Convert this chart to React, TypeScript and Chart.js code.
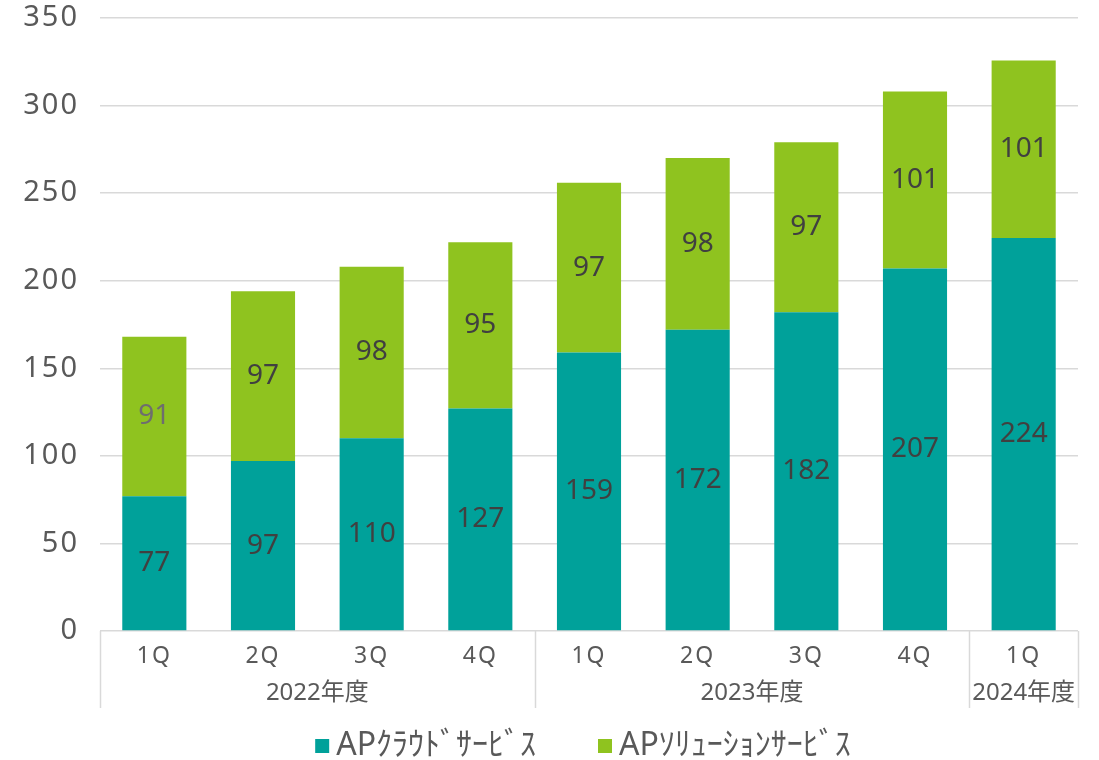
import React, { useEffect, useRef } from "react";
import { Chart, registerables } from "chart.js";

Chart.register(...registerables);

const quarters = ["1Q", "2Q", "3Q", "4Q", "1Q", "2Q", "3Q", "4Q", "1Q"];
const fiscalYears = ["2022年度", "2023年度", "2024年度"];
const fiscalYearSpans = [4, 4, 1];
const cloudLabel = "APｸﾗｳﾄﾞｻｰﾋﾞｽ";
const solutionLabel = "APｿﾘｭｰｼｮﾝｻｰﾋﾞｽ";
const cloudValues = [77, 97, 110, 127, 159, 172, 182, 207, 224.4];
const solutionValues = [91, 97, 98, 95, 97, 98, 97, 101, 101.4];
const yMin = 0;
const yMax = 350;
const yStep = 50;

const TEAL = "#00A19A";
const GREEN = "#8FC31F";
const GRID = "#d9d9d9";
const TEXT = "#595959";
const LABEL_DARK = "#404040";
const FONT = '"Noto Sans", "Noto Sans CJK JP", sans-serif';

const spacingPlugin = {
  id: "spacingPlugin",
  beforeDraw(chart: any) {
    chart.ctx.letterSpacing = "2px";
  },
  beforeDatasetsDraw(chart: any) {
    chart.ctx.letterSpacing = "0px";
  },
};

const dataLabelPlugin = {
  id: "dataLabelPlugin",
  afterDatasetsDraw(chart: any) {
    const ctx = chart.ctx;
    ctx.save();
    ctx.letterSpacing = "0px";
    ctx.font = `28px ${FONT}`;
    ctx.textAlign = "center";
    ctx.textBaseline = "middle";
    chart.data.datasets.forEach((ds: any, di: number) => {
      const meta = chart.getDatasetMeta(di);
      meta.data.forEach((el: any, i: number) => {
        const v = ds.data[i];
        const colors = ds.labelColors || [];
        ctx.fillStyle = colors[i] || LABEL_DARK;
        const y = (el.y + el.base) / 2;
        ctx.fillText(String(Math.round(v)), el.x, y);
      });
    });
    ctx.restore();
  },
};

const groupAxisPlugin = {
  id: "groupAxisPlugin",
  afterDraw(chart: any) {
    const ctx = chart.ctx;
    const xs = chart.scales.x;
    const area = chart.chartArea;
    const n = quarters.length;
    const boundary = (i: number) => {
      if (i <= 0) return xs.left;
      if (i >= n) return xs.right;
      return (xs.getPixelForValue(i - 1) + xs.getPixelForValue(i)) / 2;
    };
    const top = area.bottom;
    const bottom = area.bottom + 77;
    ctx.save();
    ctx.letterSpacing = "0px";
    ctx.strokeStyle = GRID;
    ctx.lineWidth = 1.5;
    let idx = 0;
    const edges = [0];
    fiscalYearSpans.forEach((s) => {
      idx += s;
      edges.push(idx);
    });
    edges.forEach((e) => {
      const x = Math.round(boundary(e)) + 0.5;
      ctx.beginPath();
      ctx.moveTo(x, top);
      ctx.lineTo(x, bottom);
      ctx.stroke();
    });
    ctx.font = `24px ${FONT}`;
    ctx.fillStyle = TEXT;
    ctx.textAlign = "center";
    ctx.textBaseline = "middle";
    fiscalYears.forEach((label, gi) => {
      const x0 = boundary(edges[gi]);
      const x1 = boundary(edges[gi + 1]);
      ctx.fillText(label, (x0 + x1) / 2, area.bottom + 62);
    });
    ctx.restore();
  },
};

const legendPlugin = {
  id: "legendPlugin",
  afterDraw(chart: any) {
    const ctx = chart.ctx;
    const area = chart.chartArea;
    ctx.save();
    ctx.letterSpacing = "0px";
    ctx.font = `32px ${FONT}`;
    ctx.textBaseline = "middle";
    ctx.textAlign = "left";
    const box = 14;
    const gap = 7;
    const spacing = 62;
    const items = chart.data.datasets.map((ds: any) => ({
      text: ds.label,
      color: ds.backgroundColor,
      w: ctx.measureText(ds.label).width,
    }));
    const total =
      items.reduce((a: number, it: any) => a + box + gap + it.w, 0) +
      spacing * (items.length - 1);
    const center = (area.left + area.right) / 2 - 6;
    let x = center - total / 2;
    const cy = 746;
    items.forEach((it: any) => {
      ctx.fillStyle = it.color;
      ctx.fillRect(x, cy - 7, box, box);
      x += box + gap;
      ctx.fillStyle = TEXT;
      ctx.fillText(it.text, x, cy);
      x += it.w + spacing;
    });
    ctx.restore();
  },
};

export default function App() {
  const ref = useRef<HTMLCanvasElement | null>(null);
  useEffect(() => {
    if (!ref.current) return;
    const chart = new Chart(ref.current, {
      type: "bar",
      data: {
        labels: quarters,
        datasets: [
          {
            label: cloudLabel,
            data: cloudValues,
            backgroundColor: TEAL,
            borderWidth: 0,
            categoryPercentage: 1,
            barPercentage: 0.59,
            labelColors: cloudValues.map(() => LABEL_DARK),
          } as any,
          {
            label: solutionLabel,
            data: solutionValues,
            backgroundColor: GREEN,
            borderWidth: 0,
            categoryPercentage: 1,
            barPercentage: 0.59,
            labelColors: solutionValues.map((_, i) => (i === 0 ? "#6e6e6e" : LABEL_DARK)),
          } as any,
        ],
      },
      options: {
        responsive: false,
        animation: false,
        maintainAspectRatio: false,
        layout: { padding: { left: 0, right: 21, top: 18, bottom: 52 } },
        plugins: {
          legend: { display: false },
          tooltip: { enabled: false },
        },
        scales: {
          x: {
            stacked: true,
            grid: { display: false },
            border: { display: false },
            ticks: {
              color: TEXT,
              font: { family: FONT, size: 23 },
              padding: 4,
              maxRotation: 0,
            },
            afterFit(scale: any) {
              scale.height = 77;
              scale.paddingLeft = 0;
              scale.paddingRight = 0;
            },
          },
          y: {
            stacked: true,
            min: yMin,
            max: yMax,
            grid: { color: GRID, lineWidth: 1.5, drawTicks: false },
            border: { display: false },
            ticks: {
              stepSize: yStep,
              color: TEXT,
              font: { family: FONT, size: 29 },
              padding: 21,
            },
            afterFit(scale: any) {
              scale.width = 100;
              scale.paddingTop = 0;
              scale.paddingBottom = 0;
            },
          },
        },
      },
      plugins: [spacingPlugin, dataLabelPlugin, groupAxisPlugin, legendPlugin],
    });
    return () => chart.destroy();
  }, []);
  return (
    <div style={{ position: "fixed", left: 0, top: 0, width: 1099, height: 760, background: "#fff" }}>
      <canvas ref={ref} width={1099} height={760} style={{ width: 1099, height: 760 }} />
    </div>
  );
}
